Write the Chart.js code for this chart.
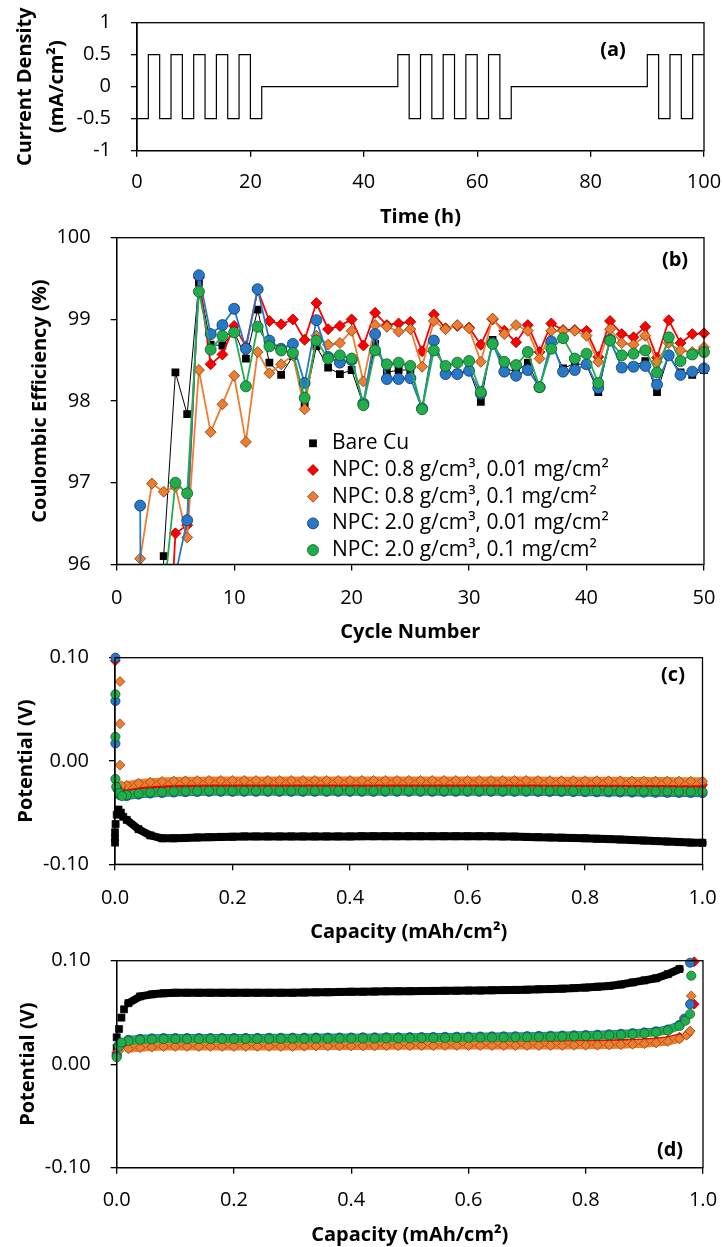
<!DOCTYPE html>
<html>
<head>
<meta charset="utf-8">
<script src="https://cdn.jsdelivr.net/npm/chart.js@4.4.1/dist/chart.umd.min.js"></script>
<style>
  html, body { margin: 0; padding: 0; background: #fff; }
  #page { position: relative; width: 723px; height: 1247px; overflow: hidden; background: #fff; }
  #page canvas { position: absolute; left: 0; }
</style>
</head>
<body>
<div id="page">
  <canvas id="chartA" width="723" height="232" style="top:0px"></canvas>
  <canvas id="chartB" width="723" height="426" style="top:222px"></canvas>
  <canvas id="chartC" width="723" height="301" style="top:645px"></canvas>
  <canvas id="chartD" width="723" height="301" style="top:946px"></canvas>
</div>
<script>
// ---------- DATA ----------

// (a) current programme: time where the level changes, and the level held from there
const pulseTime = [0, 2, 4, 6, 8, 10, 12, 14, 16, 18, 20, 22,
  46, 48, 50, 52, 54, 56, 58, 60, 62, 64, 66,
  90, 92, 94, 96, 98, 100];
const pulseCurrent = [-0.5, 0.5, -0.5, 0.5, -0.5, 0.5, -0.5, 0.5, -0.5, 0.5, -0.5, 0,
  0.5, -0.5, 0.5, -0.5, 0.5, -0.5, 0.5, -0.5, 0.5, -0.5, 0,
  0.5, -0.5, 0.5, -0.5, 0.5, 0.5];

// (b) coulombic efficiency per cycle
const seriesNames = [
  "Bare Cu",
  "NPC: 0.8 g/cm³, 0.01 mg/cm²",
  "NPC: 0.8 g/cm³, 0.1 mg/cm²",
  "NPC: 2.0 g/cm³, 0.01 mg/cm²",
  "NPC: 2.0 g/cm³, 0.1 mg/cm²"
];
const cycleNumbers = [1, 2, 3, 4, 5, 6, 7, 8, 9, 10, 11, 12, 13, 14, 15, 16, 17, 18, 19, 20,
  21, 22, 23, 24, 25, 26, 27, 28, 29, 30, 31, 32, 33, 34, 35, 36, 37, 38, 39, 40,
  41, 42, 43, 44, 45, 46, 47, 48, 49, 50];
const ceBare = [null, null, 60, 96.10, 98.35, 97.84, 99.45, 98.69, 98.68, 98.85,
  98.52, 99.12, 98.47, 98.32, 98.55, 97.97, 98.67, 98.41, 98.33, 98.38,
  97.95, 98.70, 98.35, 98.38, 98.38, 97.91, 98.75, 98.35, 98.34, 98.38,
  97.99, 98.75, 98.40, 98.36, 98.47, 98.16, 98.71, 98.40, 98.46, 98.44,
  98.11, 98.75, 98.40, 98.43, 98.49, 98.11, 98.56, 98.35, 98.32, 98.38];
const ce08a = [null, null, null, 93.7, 96.38, 96.48, 99.51, 98.45, 98.57, 98.92,
  98.67, 99.36, 98.98, 98.94, 99.00, 98.75, 99.20, 98.88, 98.92, 99.00,
  98.68, 99.08, 98.93, 98.95, 98.97, 98.61, 99.06, 98.89, 98.92, 98.90,
  98.69, 99.00, 98.86, 98.72, 98.93, 98.60, 98.95, 98.87, 98.87, 98.86,
  98.54, 98.98, 98.82, 98.78, 98.91, 98.53, 98.99, 98.71, 98.82, 98.83];
const ce08b = [null, 96.07, 96.99, 96.89, 96.95, 96.33, 98.38, 97.62, 97.96, 98.31,
  97.50, 98.60, 98.34, 98.45, 98.56, 97.90, 98.80, 98.69, 98.71, 98.86,
  98.24, 98.93, 98.91, 98.85, 98.88, 98.42, 98.98, 98.88, 98.93, 98.89,
  98.48, 99.01, 98.82, 98.93, 98.86, 98.52, 98.86, 98.86, 98.86, 98.80,
  98.48, 98.88, 98.71, 98.69, 98.80, 98.48, 98.71, 98.62, 98.60, 98.66];
const ce20a = [null, 96.72, 60, 80, 95.87, 96.54, 99.54, 98.82, 98.93, 99.13,
  98.64, 99.37, 98.74, 98.64, 98.70, 98.22, 98.99, 98.54, 98.47, 98.50,
  97.97, 98.82, 98.27, 98.27, 98.28, 97.91, 98.74, 98.33, 98.33, 98.37,
  98.09, 98.71, 98.36, 98.31, 98.38, 98.17, 98.73, 98.36, 98.38, 98.45,
  98.16, 98.75, 98.41, 98.42, 98.43, 98.20, 98.56, 98.32, 98.36, 98.40];
const ce20b = [null, null, null, 95.6, 97.00, 96.87, 99.34, 98.63, 98.80, 98.84,
  98.18, 98.91, 98.67, 98.62, 98.59, 98.04, 98.74, 98.52, 98.56, 98.52,
  97.95, 98.62, 98.45, 98.47, 98.43, 97.90, 98.62, 98.43, 98.47, 98.49,
  98.11, 98.70, 98.48, 98.44, 98.60, 98.17, 98.64, 98.77, 98.52, 98.58,
  98.22, 98.74, 98.56, 98.58, 98.62, 98.35, 98.78, 98.49, 98.57, 98.60];

// (c) plating potential vs capacity
const capC = [0.02, 0.04, 0.06, 0.08, 0.10, 0.12, 0.14, 0.16, 0.18, 0.20,
  0.22, 0.24, 0.26, 0.28, 0.30, 0.32, 0.34, 0.36, 0.38, 0.40,
  0.42, 0.44, 0.46, 0.48, 0.50, 0.52, 0.54, 0.56, 0.58, 0.60,
  0.62, 0.64, 0.66, 0.68, 0.70, 0.72, 0.74, 0.76, 0.78, 0.80,
  0.82, 0.84, 0.86, 0.88, 0.90, 0.92, 0.94, 0.96, 0.98, 1.00];
const cBare = [-0.057, -0.066, -0.072, -0.0748, -0.0748, -0.0745, -0.074, -0.0737, -0.0735, -0.0733,
  -0.073, -0.073, -0.073, -0.073, -0.073, -0.073, -0.073, -0.073, -0.073, -0.073,
  -0.0728, -0.0728, -0.0728, -0.0728, -0.0728, -0.0728, -0.0728, -0.0728, -0.0728, -0.0728,
  -0.0728, -0.0729, -0.073, -0.0732, -0.0735, -0.0737, -0.074, -0.0742, -0.0745, -0.0748,
  -0.0752, -0.0756, -0.076, -0.0765, -0.077, -0.0775, -0.078, -0.0785, -0.079, -0.0792];
const c08a = [-0.0265, -0.025, -0.024, -0.0233, -0.0228, -0.0225, -0.0222, -0.022, -0.022, -0.0218,
  -0.0218, -0.0218, -0.0218, -0.0218, -0.0218, -0.0218, -0.0218, -0.0218, -0.0218, -0.0218,
  -0.0218, -0.0218, -0.0218, -0.0218, -0.0218, -0.0218, -0.0218, -0.0218, -0.0218, -0.0218,
  -0.0218, -0.0218, -0.0218, -0.0218, -0.0218, -0.0219, -0.022, -0.022, -0.0221, -0.0222,
  -0.0223, -0.0224, -0.0225, -0.0226, -0.0227, -0.0228, -0.0229, -0.023, -0.023, -0.0231];
const c08b = [-0.0235, -0.0215, -0.0205, -0.0198, -0.0194, -0.0192, -0.019, -0.0188, -0.0188, -0.0188,
  -0.0188, -0.0188, -0.0188, -0.0188, -0.0188, -0.0188, -0.0188, -0.0188, -0.0188, -0.0188,
  -0.0188, -0.0188, -0.0188, -0.0188, -0.0188, -0.0188, -0.0188, -0.0188, -0.0188, -0.0188,
  -0.0188, -0.0188, -0.0188, -0.0188, -0.0188, -0.0189, -0.019, -0.019, -0.019, -0.0191,
  -0.0191, -0.0192, -0.0192, -0.0193, -0.0193, -0.0194, -0.0194, -0.0195, -0.0196, -0.0197];
const c20a = [-0.034, -0.0325, -0.0315, -0.031, -0.0305, -0.0302, -0.03, -0.0298, -0.0298, -0.0298,
  -0.0298, -0.0298, -0.0298, -0.0298, -0.0298, -0.0298, -0.0298, -0.0298, -0.0298, -0.0298,
  -0.0298, -0.0298, -0.0298, -0.0298, -0.0298, -0.0298, -0.0298, -0.0298, -0.0298, -0.0298,
  -0.0298, -0.0298, -0.0298, -0.0298, -0.0298, -0.0299, -0.03, -0.03, -0.0301, -0.0302,
  -0.0303, -0.0304, -0.0305, -0.0306, -0.0307, -0.0308, -0.0309, -0.031, -0.031, -0.0311];
const c20b = [-0.033, -0.0315, -0.0305, -0.03, -0.0295, -0.0292, -0.029, -0.0288, -0.0288, -0.0288,
  -0.0288, -0.0288, -0.0288, -0.0288, -0.0288, -0.0288, -0.0288, -0.0288, -0.0288, -0.0288,
  -0.0288, -0.0288, -0.0288, -0.0288, -0.0288, -0.0288, -0.0288, -0.0288, -0.0288, -0.0288,
  -0.0288, -0.0288, -0.0288, -0.0288, -0.0288, -0.0288, -0.0289, -0.0289, -0.029, -0.029,
  -0.029, -0.0291, -0.0291, -0.0292, -0.0292, -0.0293, -0.0294, -0.0295, -0.0296, -0.0297];
// (c) first points, before the plateau
const cBareDotCap = [0, 0, 0, 0.001, 0.003, 0.006, 0.010, 0.014];
const cBareDotV = [-0.079, -0.075, -0.069, -0.061, -0.052, -0.047, -0.050, -0.054];
const c08aDotCap = [0.0005, 0.006];
const c08aDotV = [0.097, -0.025];
const c08bDotCap = [0.0085, 0.0085, 0.0085, 0.011];
const c08bDotV = [0.077, 0.036, -0.004, -0.024];
const c20aDotCap = [0.0007, 0.0007, 0.0007, 0.004, 0.008];
const c20aDotV = [0.100, 0.058, 0.017, -0.027, -0.033];
const c20bDotCap = [0.0007, 0.0007, 0.0007, 0.002, 0.007, 0.012];
const c20bDotV = [0.0645, 0.0235, -0.0174, -0.025, -0.031, -0.034];

// (d) stripping potential vs capacity
const capD = [0.02, 0.04, 0.06, 0.08, 0.10, 0.12, 0.14, 0.16, 0.18, 0.20,
  0.22, 0.24, 0.26, 0.28, 0.30, 0.32, 0.34, 0.36, 0.38, 0.40,
  0.42, 0.44, 0.46, 0.48, 0.50, 0.52, 0.54, 0.56, 0.58, 0.60,
  0.62, 0.64, 0.66, 0.68, 0.70, 0.72, 0.74, 0.76, 0.78, 0.80,
  0.82, 0.84, 0.86, 0.88, 0.90, 0.92, 0.94, 0.96];
const dBare = [0.059, 0.0655, 0.0675, 0.0685, 0.069, 0.069, 0.069, 0.069, 0.069, 0.069,
  0.069, 0.069, 0.069, 0.069, 0.069, 0.0692, 0.0694, 0.0696, 0.0698, 0.07,
  0.07, 0.0702, 0.0704, 0.0705, 0.0706, 0.0707, 0.0708, 0.0709, 0.071, 0.0711,
  0.0712, 0.0714, 0.0716, 0.0718, 0.072, 0.0723, 0.0726, 0.073, 0.0735, 0.074,
  0.0748, 0.0756, 0.077, 0.079, 0.081, 0.083, 0.087, 0.092];
const d08a = [0.0175, 0.0185, 0.019, 0.019, 0.019, 0.019, 0.019, 0.019, 0.019, 0.019,
  0.019, 0.019, 0.019, 0.019, 0.019, 0.019, 0.019, 0.019, 0.019, 0.019,
  0.0192, 0.0192, 0.0192, 0.0192, 0.0192, 0.0192, 0.0192, 0.0192, 0.0192, 0.0192,
  0.0192, 0.0193, 0.0193, 0.0194, 0.0194, 0.0195, 0.0195, 0.0196, 0.0197, 0.0198,
  0.02, 0.0202, 0.0205, 0.0208, 0.0212, 0.022, 0.0232, 0.026];
const d08b = [0.015, 0.016, 0.0165, 0.017, 0.0172, 0.0172, 0.0172, 0.0172, 0.0172, 0.0172,
  0.0172, 0.0172, 0.0172, 0.0172, 0.0172, 0.0174, 0.0175, 0.0175, 0.0176, 0.0176,
  0.0177, 0.0177, 0.0178, 0.0178, 0.0178, 0.0179, 0.0179, 0.018, 0.018, 0.018,
  0.018, 0.018, 0.018, 0.018, 0.018, 0.018, 0.0181, 0.0181, 0.0182, 0.0183,
  0.0184, 0.0186, 0.0188, 0.0192, 0.0198, 0.0206, 0.022, 0.0245];
const d20a = [0.0235, 0.0245, 0.025, 0.0253, 0.0253, 0.0253, 0.0253, 0.0253, 0.0253, 0.0253,
  0.0254, 0.0254, 0.0255, 0.0255, 0.0256, 0.0256, 0.0257, 0.0257, 0.0258, 0.0258,
  0.0259, 0.0259, 0.026, 0.026, 0.0261, 0.0262, 0.0263, 0.0264, 0.0265, 0.0266,
  0.0267, 0.0268, 0.0269, 0.027, 0.0271, 0.0273, 0.0275, 0.0277, 0.0279, 0.0282,
  0.0285, 0.0289, 0.0294, 0.03, 0.0307, 0.0318, 0.0335, 0.038];
const d20b = [0.0225, 0.0235, 0.024, 0.0243, 0.0243, 0.0243, 0.0243, 0.0243, 0.0243, 0.0243,
  0.0244, 0.0244, 0.0245, 0.0245, 0.0246, 0.0246, 0.0247, 0.0247, 0.0248, 0.0248,
  0.0249, 0.0249, 0.025, 0.025, 0.0251, 0.0252, 0.0253, 0.0254, 0.0255, 0.0256,
  0.0257, 0.0258, 0.0259, 0.026, 0.0261, 0.0263, 0.0265, 0.0267, 0.0269, 0.0272,
  0.0275, 0.0279, 0.0284, 0.029, 0.0297, 0.0308, 0.0325, 0.037];
// (d) first and last points, off the plateau
const dBareDotCap = [0, 0, 0.004, 0.008, 0.0125];
const dBareDotV = [0.016, 0.026, 0.034, 0.045, 0.053];
const d08aDotCap = [0, 0.975, 0.985, 0.985];
const d08aDotV = [0.011, 0.030, 0.058, 0.099];
const d08bDotCap = [0, 0.004, 0.972, 0.978, 0.980];
const d08bDotV = [0.009, 0.013, 0.028, 0.032, 0.066];
const d20aDotCap = [0, 0.004, 0.968, 0.978, 0.978];
const d20aDotV = [0.008, 0.019, 0.044, 0.058, 0.098];
const d20bDotCap = [0, 0.004, 0.008, 0.970, 0.978, 0.980];
const d20bDotV = [0.0066, 0.017, 0.021, 0.042, 0.0485, 0.0855];

// ---------- STYLE ----------
Chart.defaults.font.family = "'Open Sans', 'DejaVu Sans', sans-serif";
Chart.defaults.color = "#000";

const looks = [
  { fill: "#000000", edge: "#000000", shape: "rect", r: 5.5, bw: 0, lw: 1 },
  { fill: "#ff0000", edge: "#8c0000", shape: "rectRot", r: 5.5, bw: 0.8, lw: 1.8 },
  { fill: "#ed7d31", edge: "#7a3d10", shape: "rectRot", r: 5.5, bw: 0.8, lw: 1.8 },
  { fill: "#2878c8", edge: "#123a66", shape: "circle", r: 5.5, bw: 0.8, lw: 1.8 },
  { fill: "#22ad4c", edge: "#0f5a24", shape: "circle", r: 5.5, bw: 0.8, lw: 1.8 }
];

function pts(xs, ys) {
  return xs.map((x, i) => ({ x: x, y: ys[i] }));
}

function drawMarker(ctx, lk, x, y) {
  ctx.save();
  ctx.fillStyle = lk.fill;
  ctx.strokeStyle = lk.edge;
  ctx.lineWidth = lk.bw;
  ctx.beginPath();
  if (lk.shape === "rect") {
    const s = lk.r * Math.SQRT1_2;
    ctx.rect(x - s, y - s, 2 * s, 2 * s);
  } else if (lk.shape === "rectRot") {
    ctx.moveTo(x, y - lk.r); ctx.lineTo(x + lk.r, y);
    ctx.lineTo(x, y + lk.r); ctx.lineTo(x - lk.r, y);
    ctx.closePath();
  } else {
    ctx.arc(x, y, lk.r, 0, Math.PI * 2);
  }
  ctx.fill();
  if (lk.bw > 0) ctx.stroke();
  ctx.restore();
}

function framePlugin(label, lx, ly) {
  return {
    id: "frame",
    afterDraw(chart) {
      const { ctx, chartArea: a } = chart;
      ctx.save();
      ctx.strokeStyle = "#000";
      ctx.lineWidth = 1.3;
      ctx.strokeRect(a.left, a.top, a.right - a.left, a.bottom - a.top);
      ctx.fillStyle = "#000";
      ctx.font = "bold 20px 'Open Sans'";
      ctx.textAlign = "center";
      ctx.textBaseline = "middle";
      ctx.fillText(label, lx, ly);
      ctx.restore();
    }
  };
}

function axis(o) {
  return {
    type: "linear", position: o.pos, min: o.min, max: o.max,
    ticks: { stepSize: o.step, padding: o.pad, color: "#000", font: { size: 20 },
      callback: o.fmt, autoSkip: false, maxRotation: 0 },
    grid: { drawOnChartArea: false, drawTicks: true, tickLength: 6, color: "#000", lineWidth: 1.3 },
    border: { display: true, color: "#000", width: 1.3 },
    title: { display: true, text: o.title, color: "#000",
      font: { size: 20, weight: "bold", lineHeight: o.lh || 1.2 }, padding: o.tpad },
    afterFit(scale) {
      if (o.pos === "left") scale.width = o.size; else scale.height = o.size;
      // plot area is fixed by layout padding, not by label overflow
      scale.paddingTop = 0; scale.paddingBottom = 0;
      scale.paddingLeft = 0; scale.paddingRight = 0;
    }
  };
}

const baseOpts = {
  responsive: false,
  animation: false,
  events: [],
  plugins: { legend: { display: false }, tooltip: { enabled: false } }
};

// ---------- (a) ----------
new Chart(document.getElementById("chartA"), {
  type: "scatter",
  data: {
    datasets: [{
      data: pts(pulseTime, pulseCurrent),
      showLine: true, stepped: true,
      borderColor: "#000", borderWidth: 1.2, pointRadius: 0
    }]
  },
  options: Object.assign({}, baseOpts, {
    layout: { padding: { top: 22.7, right: 19, left: 0, bottom: 0 } },
    scales: {
      x: axis({ pos: "bottom", min: 0, max: 100, step: 20, pad: 14, fmt: v => String(v),
        title: "Time (h)", tpad: { top: 0, bottom: 3 }, size: 81.3 }),
      y: axis({ pos: "left", min: -1, max: 1, step: 0.5, pad: 20, fmt: v => String(v),
        title: ["Current Density", "(mA/cm²)"], lh: 1.6, tpad: { top: 9, bottom: 0 }, size: 137 })
    }
  }),
  plugins: [framePlugin("(a)", 613, 50)]
});

// ---------- (b) ----------
const ceSeries = [ceBare, ce08a, ce08b, ce20a, ce20b];
new Chart(document.getElementById("chartB"), {
  type: "scatter",
  data: {
    datasets: ceSeries.map((vals, i) => ({
      data: pts(cycleNumbers, vals),
      showLine: true, spanGaps: false, order: 5 - i,
      borderColor: looks[i].fill, borderWidth: looks[i].lw,
      pointStyle: looks[i].shape, pointRadius: looks[i].r,
      pointBackgroundColor: looks[i].fill, pointBorderColor: looks[i].edge,
      pointBorderWidth: looks[i].bw,
      clip: { left: 10, right: 10, top: 10, bottom: 0 }
    }))
  },
  options: Object.assign({}, baseOpts, {
    layout: { padding: { top: 15.7, right: 19, left: 0, bottom: 0 } },
    scales: {
      x: axis({ pos: "bottom", min: 0, max: 50, step: 10, pad: 15.6, fmt: v => String(v),
        title: "Cycle Number", tpad: { top: 0, bottom: 4 }, size: 83.6 }),
      y: axis({ pos: "left", min: 96, max: 100, step: 1, pad: 20, fmt: v => String(v),
        title: "Coulombic Efficiency (%)", tpad: { top: 28, bottom: 0 }, size: 116.7 })
    }
  }),
  plugins: [framePlugin("(b)", 675, 38), {
    id: "innerLegend",
    afterDatasetsDraw(chart) {
      const ctx = chart.ctx;
      seriesNames.forEach((name, i) => {
        const y = 221.3 + i * 26.7;
        drawMarker(ctx, looks[i], 313, y);
        ctx.save();
        ctx.fillStyle = "#000";
        ctx.font = "21px 'Open Sans'";
        ctx.textAlign = "left";
        ctx.textBaseline = "middle";
        ctx.fillText(name, 332, y);
        ctx.restore();
      });
    }
  }]
});

// ---------- (c) and (d) ----------
function potentialSets(grid, bands, dotCaps, dotVs) {
  const sets = [];
  bands.forEach((vals, i) => {
    const lk = looks[i];
    sets.push({
      data: pts(grid, vals), showLine: true, order: 50 - 10 * i, clip: false,
      borderColor: lk.fill, borderWidth: 8, borderCapStyle: "round", borderJoinStyle: "round",
      pointStyle: lk.shape, pointRadius: lk.shape === "circle" ? 4.6 : 5,
      pointBackgroundColor: lk.fill, pointBorderColor: lk.edge, pointBorderWidth: 0.7
    });
    sets.push({
      data: pts(dotCaps[i], dotVs[i]), showLine: false, order: 49 - 10 * i, clip: false,
      pointStyle: lk.shape, pointRadius: lk.shape === "circle" ? 4.6 : 5,
      pointBackgroundColor: lk.fill, pointBorderColor: lk.edge, pointBorderWidth: 0.7
    });
  });
  return sets;
}

const fmt1 = v => v.toFixed(1);
const fmt2 = v => (Math.abs(v) < 1e-9 ? 0 : v).toFixed(2);

new Chart(document.getElementById("chartC"), {
  type: "scatter",
  data: {
    datasets: potentialSets(capC, [cBare, c08a, c08b, c20a, c20b],
      [cBareDotCap, c08aDotCap, c08bDotCap, c20aDotCap, c20bDotCap],
      [cBareDotV, c08aDotV, c08bDotV, c20aDotV, c20bDotV])
  },
  options: Object.assign({}, baseOpts, {
    layout: { padding: { top: 12.7, right: 20.5, left: 0, bottom: 0 } },
    scales: {
      x: axis({ pos: "bottom", min: 0, max: 1, step: 0.2, pad: 15.7, fmt: fmt1,
        title: "Capacity (mAh/cm²)", tpad: { top: 0, bottom: 2 }, size: 81.7 }),
      y: axis({ pos: "left", min: -0.1, max: 0.1, step: 0.1, pad: 20, fmt: fmt2,
        title: "Potential (V)", tpad: { top: 14.7, bottom: 0 }, size: 115 })
    }
  }),
  plugins: [framePlugin("(c)", 673, 30)]
});

new Chart(document.getElementById("chartD"), {
  type: "scatter",
  data: {
    datasets: potentialSets(capD, [dBare, d08a, d08b, d20a, d20b],
      [dBareDotCap, d08aDotCap, d08bDotCap, d20aDotCap, d20bDotCap],
      [dBareDotV, d08aDotV, d08bDotV, d20aDotV, d20bDotV])
  },
  options: Object.assign({}, baseOpts, {
    layout: { padding: { top: 14.7, right: 20, left: 0, bottom: 0 } },
    scales: {
      x: axis({ pos: "bottom", min: 0, max: 1, step: 0.2, pad: 14.3, fmt: fmt1,
        title: "Capacity (mAh/cm²)", tpad: { top: 0, bottom: 0 }, size: 79.3 }),
      y: axis({ pos: "left", min: -0.1, max: 0.1, step: 0.1, pad: 20, fmt: fmt2,
        title: "Potential (V)", tpad: { top: 16, bottom: 0 }, size: 116.7 })
    }
  }),
  plugins: [framePlugin("(d)", 670, 204)]
});
</script>
</body>
</html>
